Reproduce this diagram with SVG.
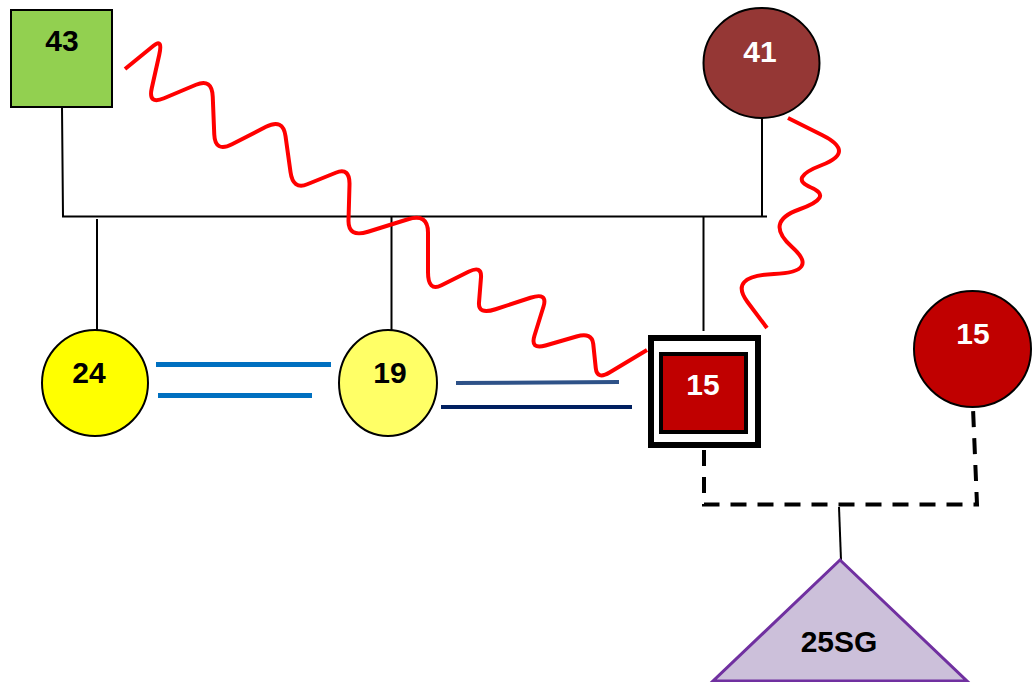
<svg xmlns="http://www.w3.org/2000/svg" width="1032" height="682" viewBox="0 0 1032 682">
<style>
.lbl{font-family:"Liberation Sans",Arial,sans-serif;font-weight:bold;font-size:30px;text-anchor:middle}
.dk{fill:#000}
.wt{fill:#fff}
.ln{stroke:#000;stroke-width:2;fill:none}
.dash{stroke:#000;stroke-width:4;fill:none;stroke-dasharray:16 11}
.wave{stroke:#ff0000;stroke-width:4;fill:none;stroke-linecap:butt;stroke-linejoin:round}
.node{stroke:#000;stroke-width:2}
</style>
<rect width="1032" height="682" fill="#fff"/>
<g id="connectors">
  <polyline class="ln" points="62,107 63,216.5 767,216.5"/>
  <line class="ln" x1="762" y1="118" x2="762" y2="216"/>
  <line class="ln" x1="97" y1="219" x2="97" y2="330"/>
  <line class="ln" x1="391.5" y1="217" x2="391.5" y2="330"/>
  <line class="ln" x1="703.5" y1="217" x2="703.5" y2="331"/>
  <line x1="156" y1="364.5" x2="331" y2="364.5" stroke="#0070c0" stroke-width="5"/>
  <line x1="158" y1="395.5" x2="312" y2="395.5" stroke="#0070c0" stroke-width="5"/>
  <line x1="456" y1="383" x2="619" y2="382" stroke="#2e5288" stroke-width="4"/>
  <line x1="441" y1="407" x2="632" y2="407" stroke="#002060" stroke-width="4"/>
  <polyline class="dash" points="704,450 704,504.5 977,504.5 973,408"/>
  <line class="ln" x1="839" y1="507" x2="841" y2="560"/>
  <path class="wave" d="M125,69 L153.5,45.75 Q163,38 159.25,54.75 L151.75,88.25 Q148,105 164,98.25 L196,84.75 Q212,78 212.75,96.75 L214.25,134.25 Q215,153 232,144.25 L266,126.75 Q283,118 285.5,136 L290.5,172 Q293,190 307.25,184.25 L335.75,172.75 Q350,167 349.5,184.75 L348.5,220.25 Q348,238 368,231.75 L408,219.25 Q428,213 428,232.75 L428,272.25 Q428,292 441.5,285.25 L468.5,271.75 Q482,265 481,277.5 L479,302.5 Q478,315 495.5,309.25 L530.5,297.75 Q548,292 543.5,306.5 L534.5,335.5 Q530,350 545.5,345.5 L576.5,336.5 Q592,332 593.25,344 L595.75,368 Q597,380 609.5,372.5 L647,350"/>
  <path class="wave" d="M788,118 L822,135 Q856,152 822,165 Q788,178 811,187.5 Q834,197 799,209.5 Q764,222 792,247 Q820,272 774,274 Q728,276 747.5,302 L767,328"/>
</g>
<g id="n43">
  <rect class="node" x="11" y="10" width="101" height="97" fill="#92d050"/>
  <text class="lbl dk" x="62" y="51">43</text>
</g>
<g id="n41">
  <ellipse class="node" cx="761.5" cy="63" rx="58" ry="55" fill="#953735"/>
  <text class="lbl wt" x="760" y="62">41</text>
</g>
<g id="n24">
  <ellipse class="node" cx="95" cy="383" rx="53" ry="53" fill="#ffff00"/>
  <text class="lbl dk" x="89" y="383">24</text>
</g>
<g id="n19">
  <ellipse class="node" cx="388" cy="383" rx="49" ry="53" fill="#ffff66"/>
  <text class="lbl dk" x="390" y="383">19</text>
</g>
<g id="n15a">
  <rect x="651" y="338" width="107" height="107" fill="#fff" stroke="#000" stroke-width="6"/>
  <rect x="661" y="354" width="85" height="78" fill="#c00000" stroke="#000" stroke-width="4"/>
  <text class="lbl wt" x="703" y="395">15</text>
</g>
<g id="n15b">
  <ellipse class="node" cx="972.5" cy="349" rx="58.5" ry="58" fill="#c00000"/>
  <text class="lbl wt" x="973" y="344">15</text>
</g>
<g id="n25SG">
  <polygon points="840,560 713,681 967,681" fill="#ccc0da" stroke="#7030a0" stroke-width="3"/>
  <text class="lbl dk" x="839" y="652">25SG</text>
</g>
</svg>
